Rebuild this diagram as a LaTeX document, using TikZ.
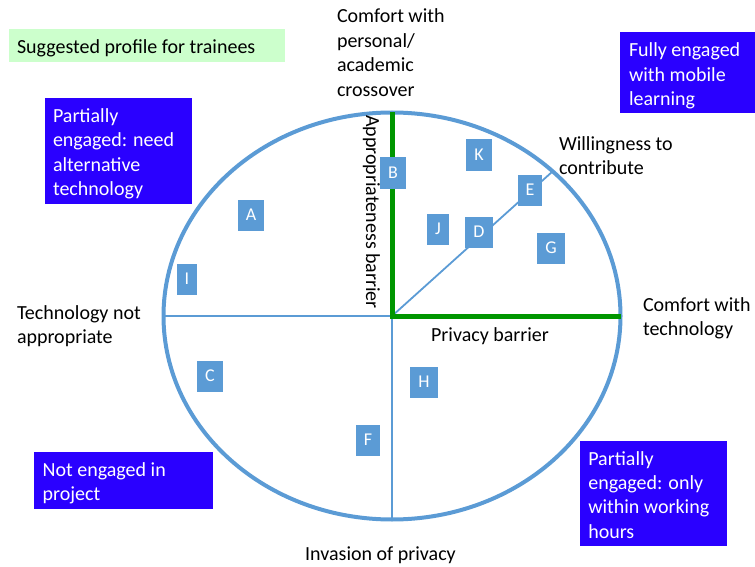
\documentclass[tikz,border=0pt]{standalone}
\usepackage{fontspec}
\setmainfont{Carlito}
\usetikzlibrary{shapes.geometric}
\definecolor{ellblue}{RGB}{91,155,213}
\definecolor{boxblue}{RGB}{42,0,255}
\definecolor{barrgreen}{RGB}{0,150,0}
\definecolor{lgreen}{RGB}{204,255,204}
\newcommand{\mylines}[1]{\begin{tabular}[t]{@{}l@{}}#1\end{tabular}}
\begin{document}
\begin{tikzpicture}[x=1pt,y=-1pt,
  every node/.style={inner sep=0, outer sep=0, font=\fontsize{20}{24.4}\selectfont},
  lbl/.style={anchor=base west},
  letterbox/.style={fill=ellblue, text=white, font=\fontsize{18}{20}\selectfont,
    inner xsep=8, minimum height=31, text height=11.6, text depth=0},
  bluebox/.style={fill=boxblue, anchor=north west},
  boxtext/.style={anchor=base west, text=white},
  thinline/.style={draw=ellblue, line width=1.8},
  barrier/.style={draw=barrgreen, line width=5}
]
\useasboundingbox (0,0) rectangle (755,567);

% main ellipse
\node[ellipse, draw=ellblue, line width=4, minimum width=457, minimum height=407] (ell) at (392,316) {};
\draw[thinline] (ell.west) -- (ell.center);
\draw[thinline] (ell.center) -- (ell.south);
\draw[thinline] (ell.center) -- (ell.42);
\draw[barrier] (ell.north) -- (ell.center) -- (ell.east);

% suggested profile
\node[fill=lgreen, anchor=north west, minimum width=276, minimum height=33] (sugbox) at (9,29) {};
\node[lbl] (sug) at (17,54) {Suggested profile for trainees};

% blue boxes
\node[bluebox, minimum width=147, minimum height=106] (tlbox) at (45,98) {};
\node[boxtext] (tltext) at (53,122.5) {\mylines{Partially\\engaged: need\\alternative\\technology}};
\node[bluebox, minimum width=135, minimum height=81] (trbox) at (620,32) {};
\node[boxtext] (trtext) at (629,57) {\mylines{Fully engaged\\with mobile\\learning}};
\node[bluebox, minimum width=179, minimum height=57] (blbox) at (34,452) {};
\node[boxtext] (bltext) at (42.7,476) {\mylines{Not engaged in\\project}};
\node[bluebox, minimum width=147, minimum height=105] (brbox) at (580,441) {};
\node[boxtext] (brtext) at (588.3,465) {\mylines{Partially\\engaged: only\\within working\\hours}};

% axis labels
\node[lbl] (comfpers) at (337,23) {\mylines{Comfort with\\personal/\\academic\\crossover}};
\node[lbl] (willing) at (559,150) {\mylines{Willingness to\\contribute}};
\node[lbl] (comftech) at (643,311) {\mylines{Comfort with\\technology}};
\node[lbl] (technot) at (17,319.5) {\mylines{Technology not\\appropriate}};
\node[anchor=base] (privbar) at (490,341) {Privacy barrier};
\node[anchor=base] (invas) at (380.5,560) {Invasion of privacy};
\node[rotate=-90] (appr) at (371.5,212) {Appropriateness barrier};

% letter boxes
\node[letterbox] (A) at (251,215) {A};
\node[letterbox] (B) at (393,173) {B};
\node[letterbox] (C) at (210,376) {C};
\node[letterbox] (D) at (479,232) {D};
\node[letterbox] (E) at (530,190) {E};
\node[letterbox] (F) at (368,440) {F};
\node[letterbox] (G) at (551,248) {G};
\node[letterbox] (H) at (424,382) {H};
\node[letterbox] (I) at (187,279) {I};
\node[letterbox] (J) at (438,229) {J};
\node[letterbox] (K) at (479,155) {K};
\end{tikzpicture}
\end{document}
